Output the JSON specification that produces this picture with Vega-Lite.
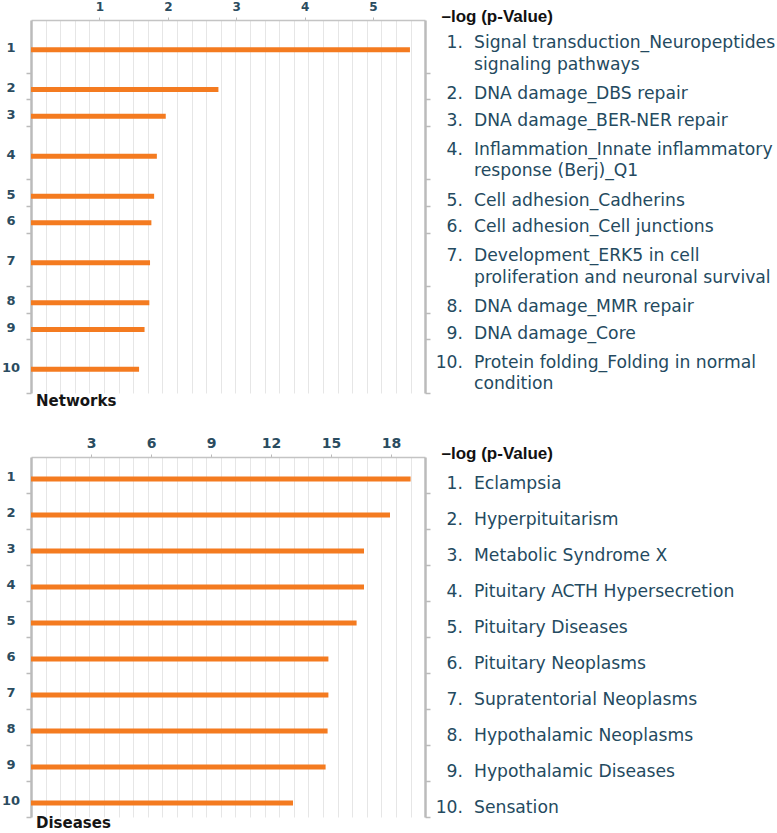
{
  "$schema": "https://vega.github.io/schema/vega-lite/v6.json",
  "padding": {"left": 1, "top": 0, "right": 0, "bottom": 0},
  "spacing": 27,
  "config": {"view": {"stroke": null}, "font": "DejaVu Sans"},
  "datasets": {
    "networks": [
      {"rank": "1", "name": "Signal transduction_Neuropeptides\nsignaling pathways", "value": 5.54},
      {"rank": "2", "name": "DNA damage_DBS repair", "value": 2.74},
      {"rank": "3", "name": "DNA damage_BER-NER repair", "value": 1.97},
      {"rank": "4", "name": "Inflammation_Innate inflammatory\nresponse (Berj)_Q1", "value": 1.84},
      {"rank": "5", "name": "Cell adhesion_Cadherins", "value": 1.80},
      {"rank": "6", "name": "Cell adhesion_Cell junctions", "value": 1.76},
      {"rank": "7", "name": "Development_ERK5 in cell\nproliferation and neuronal survival", "value": 1.74},
      {"rank": "8", "name": "DNA damage_MMR repair", "value": 1.73},
      {"rank": "9", "name": "DNA damage_Core", "value": 1.66},
      {"rank": "10", "name": "Protein folding_Folding in normal\ncondition", "value": 1.58}
    ],
    "diseases": [
      {"rank": "1", "name": "Eclampsia", "value": 18.98},
      {"rank": "2", "name": "Hyperpituitarism", "value": 17.95},
      {"rank": "3", "name": "Metabolic Syndrome X", "value": 16.65},
      {"rank": "4", "name": "Pituitary ACTH Hypersecretion", "value": 16.65},
      {"rank": "5", "name": "Pituitary Diseases", "value": 16.28},
      {"rank": "6", "name": "Pituitary Neoplasms", "value": 14.87},
      {"rank": "7", "name": "Supratentorial Neoplasms", "value": 14.87},
      {"rank": "8", "name": "Hypothalamic Neoplasms", "value": 14.83},
      {"rank": "9", "name": "Hypothalamic Diseases", "value": 14.73},
      {"rank": "10", "name": "Sensation", "value": 13.1}
    ]
  },
  "vconcat": [
    {
      "width": 394,
      "height": 373,
      "data": {"name": "networks"},
      "title": {"text": "Networks", "orient": "bottom", "anchor": "start", "frame": "group", "offset": 0, "dx": 5, "font": "DejaVu Sans", "fontSize": 15, "fontWeight": "bold", "color": "#151515"},
      "resolve": {"axis": {"x": "independent", "y": "independent"}},
      "layer": [
        {
          "transform": [{"filter": "indexof(datum.name, '\\n') < 0"}],
          "mark": {"type": "rule", "color": "#f47b20", "strokeWidth": 5, "strokeCap": "butt", "yOffset": 3},
          "encoding": {
            "x": {"field": "value", "type": "quantitative", "scale": {"domain": [0, 5.76], "nice": false},
              "axis": {"orient": "top", "values": [1, 2, 3, 4, 5], "grid": false, "tickSize": 3, "tickColor": "#bbbbbb", "domainColor": "#c4c4c4", "domainWidth": 1.5, "labelFont": "DejaVu Sans", "labelFontWeight": "bold", "labelFontSize": 12, "labelColor": "#2b4c60", "labelPadding": 4, "title": "–log (p-Value)", "titleFont": "Liberation Sans", "titleFontSize": 17, "titleFontWeight": "bold", "titleColor": "#111111", "titleX": 410, "titleY": -4, "titleAlign": "left", "titleBaseline": "middle", "titleAngle": 0}},
            "x2": {"datum": 0},
            "y": {"field": "rank", "type": "nominal", "bandPosition": 0.5,
              "scale": {"type": "band", "domain": ["1", "1b", "2", "3", "4", "4b", "5", "6", "7", "7b", "8", "9", "10", "10b"], "paddingInner": 0, "paddingOuter": 0},
              "axis": {"orient": "left", "values": ["1b", "2", "3", "4b", "5", "6", "7b", "8", "9", "10b"], "bandPosition": 1, "labels": false, "tickSize": 5, "tickColor": "#bbbbbb", "tickWidth": 1.5, "domainColor": "#bbbbbb", "domainWidth": 2.5, "grid": false, "title": null}}
          }
        },
        {
          "transform": [{"filter": "indexof(datum.name, '\\n') >= 0"}],
          "mark": {"type": "rule", "color": "#f47b20", "strokeWidth": 5, "strokeCap": "butt", "yOffset": 3},
          "encoding": {
            "x": {"field": "value", "type": "quantitative", "scale": {"domain": [0, 5.76], "nice": false}, "axis": null},
            "x2": {"datum": 0},
            "y": {"field": "rank", "type": "nominal", "bandPosition": 1,
              "scale": {"type": "band", "domain": ["1", "1b", "2", "3", "4", "4b", "5", "6", "7", "7b", "8", "9", "10", "10b"], "paddingInner": 0, "paddingOuter": 0},
              "axis": {"orient": "right", "values": ["1b", "2", "3", "4b", "5", "6", "7b", "8", "9", "10b"], "bandPosition": 1, "labels": false, "tickSize": 5, "tickColor": "#bbbbbb", "tickWidth": 1.5, "domainColor": "#bbbbbb", "domainWidth": 2.5, "grid": false, "title": null}}
          }
        },
        {
          "transform": [{"filter": "indexof(datum.name, '\\n') < 0"}],
          "mark": {"type": "text", "font": "DejaVu Sans", "fontWeight": "bold", "fontSize": 13, "color": "#2b4c60", "align": "center", "baseline": "middle", "dx": -20, "yOffset": 1.5},
          "encoding": {
            "x": {"datum": 0, "type": "quantitative", "scale": {"domain": [0, 5.76], "nice": false},
              "axis": {"orient": "top", "values": [0.213, 0.427, 0.640, 0.854, 1.067, 1.281, 1.494, 1.708, 1.921, 2.135, 2.348, 2.561, 2.775, 2.988, 3.202, 3.415, 3.629, 3.842, 4.056, 4.269, 4.482, 4.696, 4.909, 5.123, 5.336, 5.550], "grid": true, "gridColor": "#e6e6e6", "gridWidth": 1, "ticks": false, "labels": false, "domain": false, "title": null, "zindex": 0}},
            "y": {"field": "rank", "type": "nominal", "bandPosition": 0.5,
              "scale": {"type": "band", "domain": ["1", "1b", "2", "3", "4", "4b", "5", "6", "7", "7b", "8", "9", "10", "10b"], "paddingInner": 0, "paddingOuter": 0}, "axis": null},
            "text": {"field": "rank"}
          }
        },
        {
          "transform": [{"filter": "indexof(datum.name, '\\n') >= 0"}],
          "mark": {"type": "text", "font": "DejaVu Sans", "fontWeight": "bold", "fontSize": 13, "color": "#2b4c60", "align": "center", "baseline": "middle", "dx": -20, "yOffset": 1.5},
          "encoding": {
            "x": {"value": 0},
            "y": {"field": "rank", "type": "nominal", "bandPosition": 1,
              "scale": {"type": "band", "domain": ["1", "1b", "2", "3", "4", "4b", "5", "6", "7", "7b", "8", "9", "10", "10b"], "paddingInner": 0, "paddingOuter": 0}, "axis": null},
            "text": {"field": "rank"}
          }
        },
        {
          "transform": [{"filter": "indexof(datum.name, '\\n') < 0"}],
          "mark": {"type": "text", "font": "DejaVu Sans", "fontSize": 17.2, "color": "#244a60", "align": "right", "baseline": "middle", "dx": 38, "yOffset": 7.5, "text": {"expr": "datum.rank + '.'"}},
          "encoding": {
            "x": {"value": "width"},
            "y": {"field": "rank", "type": "nominal", "bandPosition": 0.5,
              "scale": {"type": "band", "domain": ["1", "1b", "2", "3", "4", "4b", "5", "6", "7", "7b", "8", "9", "10", "10b"], "paddingInner": 0, "paddingOuter": 0}, "axis": null}
          }
        },
        {
          "transform": [{"filter": "indexof(datum.name, '\\n') >= 0"}],
          "mark": {"type": "text", "font": "DejaVu Sans", "fontSize": 17.2, "color": "#244a60", "align": "right", "baseline": "middle", "dx": 38, "yOffset": -3.5, "text": {"expr": "datum.rank + '.'"}},
          "encoding": {
            "x": {"value": "width"},
            "y": {"field": "rank", "type": "nominal", "bandPosition": 1,
              "scale": {"type": "band", "domain": ["1", "1b", "2", "3", "4", "4b", "5", "6", "7", "7b", "8", "9", "10", "10b"], "paddingInner": 0, "paddingOuter": 0}, "axis": null}
          }
        },
        {
          "transform": [{"filter": "indexof(datum.name, '\\n') < 0"}],
          "mark": {"type": "text", "font": "DejaVu Sans", "fontSize": 17.2, "color": "#244a60", "align": "left", "baseline": "middle", "dx": 49, "yOffset": 7.5},
          "encoding": {
            "x": {"value": "width"},
            "y": {"field": "rank", "type": "nominal", "bandPosition": 0.5,
              "scale": {"type": "band", "domain": ["1", "1b", "2", "3", "4", "4b", "5", "6", "7", "7b", "8", "9", "10", "10b"], "paddingInner": 0, "paddingOuter": 0}, "axis": null},
            "text": {"field": "name"}
          }
        },
        {
          "transform": [{"filter": "indexof(datum.name, '\\n') >= 0"}],
          "mark": {"type": "text", "font": "DejaVu Sans", "fontSize": 17.2, "color": "#244a60", "align": "left", "baseline": "middle", "dx": 49, "yOffset": -3.5, "lineBreak": "\n", "lineHeight": 21.5},
          "encoding": {
            "x": {"value": "width"},
            "y": {"field": "rank", "type": "nominal", "bandPosition": 1,
              "scale": {"type": "band", "domain": ["1", "1b", "2", "3", "4", "4b", "5", "6", "7", "7b", "8", "9", "10", "10b"], "paddingInner": 0, "paddingOuter": 0}, "axis": null},
            "text": {"field": "name"}
          }
        }
      ]
    },
    {
      "width": 394,
      "height": 360,
      "data": {"name": "diseases"},
      "title": {"text": "Diseases", "orient": "bottom", "anchor": "start", "frame": "group", "offset": -2, "dx": 5, "font": "DejaVu Sans", "fontSize": 15, "fontWeight": "bold", "color": "#151515"},
      "resolve": {"axis": {"x": "independent", "y": "independent"}},
      "layer": [
        {
          "mark": {"type": "rule", "color": "#f47b20", "strokeWidth": 5, "strokeCap": "butt", "yOffset": 4},
          "encoding": {
            "x": {"field": "value", "type": "quantitative", "scale": {"domain": [0, 19.7], "nice": false},
              "axis": {"orient": "top", "values": [3, 6, 9, 12, 15, 18], "grid": false, "tickSize": 3, "tickColor": "#bbbbbb", "domainColor": "#c4c4c4", "domainWidth": 1.5, "labelFont": "DejaVu Sans", "labelFontWeight": "bold", "labelFontSize": 14, "labelColor": "#2b4c60", "labelPadding": 4, "title": "–log (p-Value)", "titleFont": "Liberation Sans", "titleFontSize": 17, "titleFontWeight": "bold", "titleColor": "#111111", "titleX": 410, "titleY": -4, "titleAlign": "left", "titleBaseline": "middle", "titleAngle": 0}},
            "x2": {"datum": 0},
            "y": {"field": "rank", "type": "nominal",
              "scale": {"type": "band", "domain": ["1", "2", "3", "4", "5", "6", "7", "8", "9", "10"], "paddingInner": 0, "paddingOuter": 0},
              "axis": {"orient": "left", "bandPosition": 1, "labels": false, "tickSize": 5, "tickColor": "#bbbbbb", "tickWidth": 1.5, "domainColor": "#bbbbbb", "domainWidth": 2.5, "grid": false, "title": null}}
          }
        },
        {
          "mark": {"type": "text", "font": "DejaVu Sans", "fontWeight": "bold", "fontSize": 13, "color": "#2b4c60", "align": "center", "baseline": "middle", "dx": -20, "yOffset": 2},
          "encoding": {
            "x": {"datum": 0, "type": "quantitative", "scale": {"domain": [0, 19.7], "nice": false},
              "axis": {"orient": "top", "values": [0.73, 1.46, 2.19, 2.92, 3.65, 4.38, 5.11, 5.84, 6.57, 7.3, 8.03, 8.76, 9.49, 10.22, 10.95, 11.68, 12.41, 13.14, 13.87, 14.6, 15.33, 16.06, 16.79, 17.52, 18.25, 18.98], "grid": true, "gridColor": "#e6e6e6", "gridWidth": 1, "ticks": false, "labels": false, "domain": false, "title": null, "zindex": 0}},
            "y": {"field": "rank", "type": "nominal",
              "scale": {"type": "band", "domain": ["1", "2", "3", "4", "5", "6", "7", "8", "9", "10"], "paddingInner": 0, "paddingOuter": 0},
              "axis": {"orient": "right", "bandPosition": 1, "labels": false, "tickSize": 5, "tickColor": "#bbbbbb", "tickWidth": 1.5, "domainColor": "#bbbbbb", "domainWidth": 2.5, "grid": false, "title": null}},
            "text": {"field": "rank"}
          }
        },
        {
          "mark": {"type": "text", "font": "DejaVu Sans", "fontSize": 17.2, "color": "#244a60", "align": "right", "baseline": "middle", "dx": 38, "yOffset": 9, "text": {"expr": "datum.rank + '.'"}},
          "encoding": {
            "x": {"value": "width"},
            "y": {"field": "rank", "type": "nominal",
              "scale": {"type": "band", "domain": ["1", "2", "3", "4", "5", "6", "7", "8", "9", "10"], "paddingInner": 0, "paddingOuter": 0}, "axis": null}
          }
        },
        {
          "mark": {"type": "text", "font": "DejaVu Sans", "fontSize": 17.2, "color": "#244a60", "align": "left", "baseline": "middle", "dx": 49, "yOffset": 9},
          "encoding": {
            "x": {"value": "width"},
            "y": {"field": "rank", "type": "nominal",
              "scale": {"type": "band", "domain": ["1", "2", "3", "4", "5", "6", "7", "8", "9", "10"], "paddingInner": 0, "paddingOuter": 0}, "axis": null},
            "text": {"field": "name"}
          }
        }
      ]
    }
  ]
}
